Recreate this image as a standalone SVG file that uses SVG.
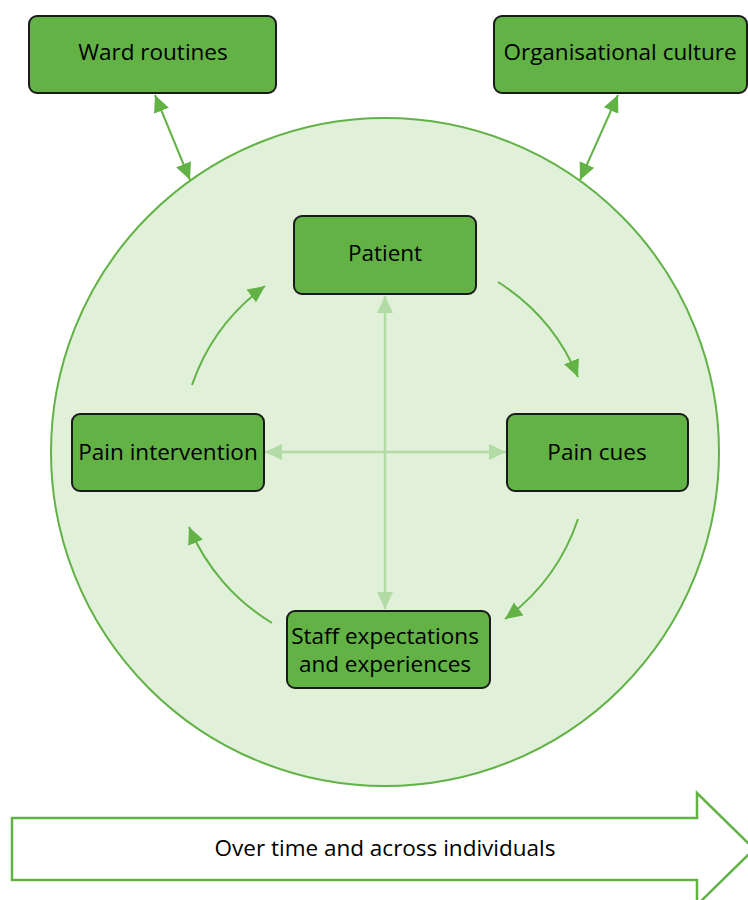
<svg xmlns="http://www.w3.org/2000/svg" width="748" height="900" viewBox="0 0 748 900">
<style>
.box{fill:#62b246;stroke:#1a1a1a;stroke-width:2}
.lbl{font-family:"Open Sans","Liberation Sans",sans-serif;font-size:22.5px;fill:#000;text-anchor:middle}
.conn{fill:none;stroke:#62b246;stroke-width:2}
.light{fill:none;stroke:#b3dba5;stroke-width:2.5}
</style>
<defs>
<marker id="ah" markerUnits="userSpaceOnUse" markerWidth="18" markerHeight="16" refX="17" refY="8" orient="auto-start-reverse" viewBox="0 0 18 16">
<path d="M0,0 L17,8 L0,16 z" fill="#62b246"/>
</marker>
<marker id="al" markerUnits="userSpaceOnUse" markerWidth="18" markerHeight="16" refX="17" refY="8" orient="auto-start-reverse" viewBox="0 0 18 16">
<path d="M0,0 L17,8 L0,16 z" fill="#b3dba5"/>
</marker>
</defs>
<rect width="748" height="900" fill="#fff"/>
<circle id="context" cx="385" cy="452" r="334" fill="#e0f0d9" stroke="#62b246" stroke-width="2"/>
<g id="connectors">
<path class="conn" d="M155,95 L190,180" marker-start="url(#ah)" marker-end="url(#ah)"/>
<path class="conn" d="M618,95 L580,180" marker-start="url(#ah)" marker-end="url(#ah)"/>
<path class="light" d="M385,296 L385,609" marker-start="url(#al)" marker-end="url(#al)"/>
<path class="light" d="M265,452 L506,452" marker-start="url(#al)" marker-end="url(#al)"/>
<path class="conn" d="M498,282 A205,205 0 0 1 578,377" marker-end="url(#ah)"/>
<path class="conn" d="M578,519 A205,205 0 0 1 505,619" marker-end="url(#ah)"/>
<path class="conn" d="M272,623 A205,205 0 0 1 189,527" marker-end="url(#ah)"/>
<path class="conn" d="M192,385 A205,205 0 0 1 265,286" marker-end="url(#ah)"/>
</g>
<g id="ward"><rect class="box" x="29" y="16" width="247" height="77" rx="8"/><text class="lbl" x="153" y="60">Ward routines</text></g>
<g id="org"><rect class="box" x="494" y="16" width="253" height="77" rx="8"/><text class="lbl" x="620" y="60">Organisational culture</text></g>
<g id="patient"><rect class="box" x="294" y="216" width="182" height="78" rx="8"/><text class="lbl" x="385" y="261">Patient</text></g>
<g id="intervention"><rect class="box" x="72" y="414" width="192" height="77" rx="8"/><text class="lbl" x="168" y="460">Pain intervention</text></g>
<g id="cues"><rect class="box" x="507" y="414" width="181" height="77" rx="8"/><text class="lbl" x="597" y="460">Pain cues</text></g>
<g id="staff"><rect class="box" x="287" y="611" width="203" height="77" rx="8"/><text class="lbl" x="385" y="644">Staff expectations</text><text class="lbl" x="385" y="672">and experiences</text></g>
<g id="time"><path d="M12,818 L697,818 L697,793 L754,849 L697,905 L697,880 L12,880 z" fill="#fff" stroke="#62b246" stroke-width="2.5"/><text class="lbl" x="385" y="856">Over time and across individuals</text></g>
</svg>
